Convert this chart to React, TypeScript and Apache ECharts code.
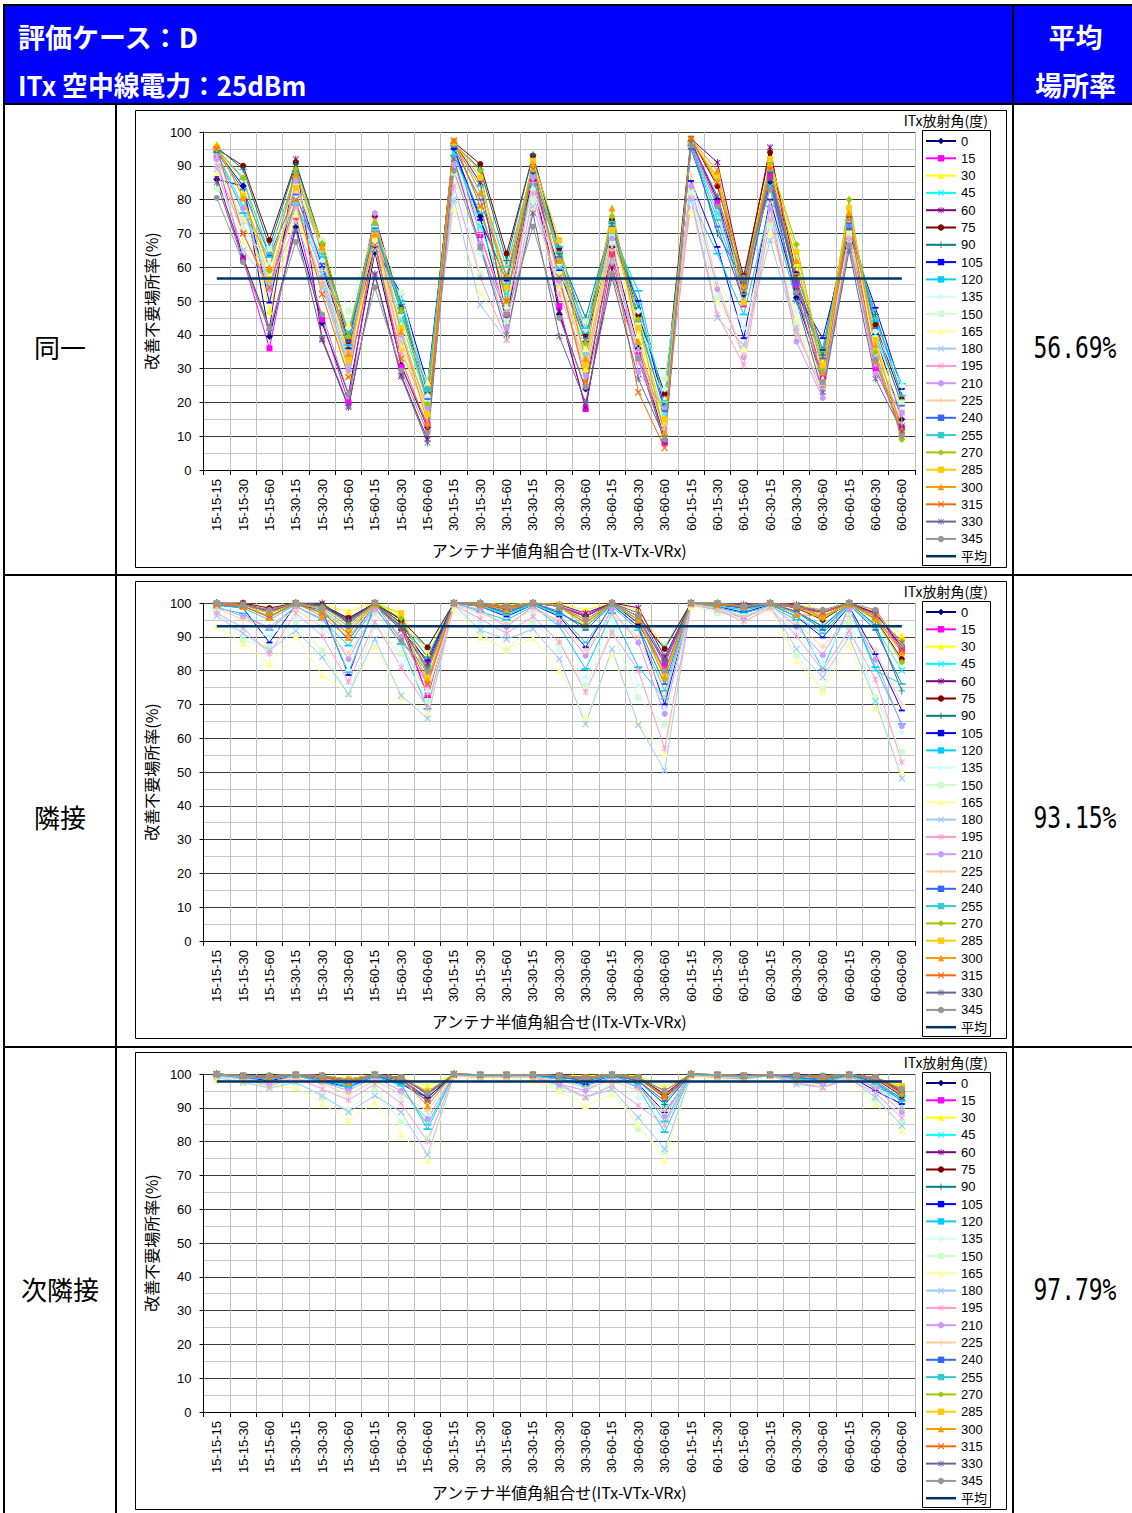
import React, { useEffect, useRef } from "react";
import * as echarts from "echarts";

const categories = [
  "15-15-15", "15-15-30", "15-15-60", "15-30-15", "15-30-30", "15-30-60", "15-60-15", "15-60-30", "15-60-60",
  "30-15-15", "30-15-30", "30-15-60", "30-30-15", "30-30-30", "30-30-60", "30-60-15", "30-60-30", "30-60-60",
  "60-15-15", "60-15-30", "60-15-60", "60-30-15", "60-30-30", "60-30-60", "60-60-15", "60-60-30", "60-60-60",
];

const angles = ["0", "15", "30", "45", "60", "75", "90", "105", "120", "135", "150", "165",
  "180", "195", "210", "225", "240", "255", "270", "285", "300", "315", "330", "345"];

const yTicks = [0, 10, 20, 30, 40, 50, 60, 70, 80, 90, 100];

// 同一 : one row per category, one value per ITx angle (0..345)
const sameRows = [
  [86, 92.5, 96.5, 94, 86.5, 95, 95.5, 94.5, 94, 91, 83, 88, 89, 90, 92, 93, 94, 95, 95, 95.5, 96, 95, 85, 80.5],
  [84, 62.5, 82, 78, 63, 90, 89, 84, 76, 72, 74, 67.5, 65, 70, 77.5, 73, 83, 86, 86.5, 81, 80.5, 70, 62, 61.5],
  [39.5, 36, 47, 55, 42, 68, 66, 49.5, 63, 61, 65.5, 58, 55, 53, 53.5, 57, 63.5, 64, 59, 56.5, 60, 54, 41, 42],
  [72, 75, 75.5, 79, 92, 91, 90.5, 85, 78.5, 81, 84, 76, 73, 78, 85.5, 82, 81.5, 88, 89, 83.5, 87.5, 80, 71, 67.5],
  [43.5, 44.5, 55, 58, 38.5, 66.5, 67, 60, 63, 62, 68, 57, 54, 55, 57, 59, 61, 64, 67, 65.5, 66, 52, 39, 46],
  [22.5, 20, 28, 32, 18.5, 38, 40, 36, 37, 42, 47, 43, 30, 31, 29.5, 33, 38, 41, 39.5, 32.5, 34.5, 27.5, 19, 22.5],
  [64.5, 68, 69, 71, 58, 75, 72, 66, 70.5, 67, 72, 68.5, 65, 74, 76, 69, 71.5, 72.5, 73, 69.5, 70, 66.5, 57.5, 54],
  [31, 30.5, 36, 44, 28, 48, 49, 52, 50, 46, 52.5, 43, 38, 35, 40, 38, 46.5, 48, 47, 42, 41, 33, 27.5, 29.5],
  [12.5, 13.5, 17, 20, 9, 22, 23, 25.5, 24, 22, 21, 26, 19, 17, 18.5, 16, 21, 23.5, 19.5, 16.5, 14, 12.5, 8, 11],
  [95, 96, 97, 94, 97, 97, 96.5, 95, 93, 80.5, 88, 77.5, 80, 84, 90.5, 92, 95.5, 96, 96.5, 97, 97.5, 97.5, 92, 88.5],
  [75, 69.5, 78, 72, 85, 90.5, 89, 74, 76, 64, 58, 52.5, 48.8, 57, 67, 70, 80, 84, 88.5, 86.5, 82, 78, 66, 65.7],
  [44, 46, 50, 52, 45, 64, 62, 56, 55, 48, 44, 40, 38.5, 38.5, 42, 47, 57, 60, 50, 54, 57.5, 50, 40, 46],
  [88, 85.5, 89, 87, 92, 93, 93.3, 86, 84.5, 83, 80, 77.5, 78, 82, 86.5, 85, 88, 90, 91, 91.5, 90.5, 89, 76, 72],
  [46, 48.5, 55, 60, 47, 65.5, 64, 59, 66, 61, 58, 53, 55, 52, 56, 57, 63, 64.5, 62, 68, 62, 57, 39.5, 45],
  [24, 18, 30, 35, 18.5, 40, 45, 38, 40.5, 41.5, 44, 36, 34, 32, 28, 33, 39, 42, 37.5, 31, 33, 26, 20, 24.5],
  [66, 64, 70, 72, 60, 74, 73, 68, 70, 67, 69, 68.5, 62, 66, 68.5, 65, 72, 73.5, 75, 71, 77.5, 64, 57, 58],
  [36, 35, 40, 46, 33, 45.8, 48, 50, 53, 47, 43, 40, 36, 32, 29, 35, 44, 49, 44.5, 42, 38, 23, 27, 33],
  [9, 8, 14, 17, 8.5, 22.5, 20, 18, 19, 24, 27, 21, 16, 13, 18, 12, 17.5, 20.5, 10, 15, 11, 6.5, 9.5, 9],
  [97.5, 97, 97.5, 96, 98, 98, 97, 85.5, 80, 79, 82, 76.6, 79.5, 80.5, 84, 87.4, 95, 96, 97, 97.5, 98, 98, 97, 96],
  [80, 79, 86, 76, 91, 84, 70, 66, 64, 56.3, 51, 50, 45, 46, 53.5, 55, 72, 74, 86.5, 87, 88.5, 85, 81, 78],
  [52, 49, 55, 54, 56, 57.5, 56, 39, 46, 42, 35.5, 36, 37, 31, 33.4, 34, 50, 52, 56, 49.5, 55, 53, 55.5, 57],
  [85, 87, 91, 84, 95.5, 94, 88, 80, 78, 72, 73, 70, 68, 74, 77.5, 79, 86, 88.5, 91, 92, 90, 89, 86, 83],
  [51, 55, 61, 57, 53, 58, 56, 52, 50, 47, 43, 45, 41, 42, 38, 40, 55, 58, 66.7, 64.5, 62, 57, 50, 52.5],
  [27, 28, 32, 30, 25, 35.5, 34, 39, 36, 30, 26, 27, 24, 22, 21.3, 25, 33, 35, 30, 31, 29, 26, 23, 26],
  [70, 72, 76, 73, 69, 75, 71, 70, 72, 68, 70, 74, 66, 67, 68.5, 69, 73, 74, 80, 77.5, 76, 74, 65, 66.5],
  [40, 30, 37, 40, 33, 43, 46, 48, 44, 41, 39, 36, 34, 31, 28.5, 33, 42, 45, 35, 38.5, 37, 32, 27, 32.5],
  [15, 12.5, 18, 20, 13, 21, 22, 24, 25.5, 25, 20, 18, 17, 16, 17, 14, 19, 22, 9, 10.5, 12, 11, 11.5, 10],
];

// 隣接
const adjRows = [
  [100, 99.5, 100, 99, 100, 100, 100, 99.5, 98.5, 97.5, 97.7, 93.3, 96.2, 97, 99, 98.5, 99.5, 99.5, 100, 100, 100, 99.5, 100, 100],
  [99.5, 99.5, 100, 99, 100, 100, 99.5, 98.5, 96.9, 93, 89, 88, 91, 92.6, 96, 95, 99, 98.5, 99.5, 99.5, 99, 99, 99.5, 99.5],
  [97, 98, 98.5, 96, 97.5, 98.5, 97, 88.3, 92, 90, 87, 82, 86, 85, 92.9, 93, 96, 95, 97, 97, 95.7, 96, 97.5, 98],
  [100, 100, 100, 99.5, 100, 100, 100, 99.5, 99, 96, 94, 90.3, 91.8, 97, 99, 98, 100, 99.5, 100, 100, 100, 100, 100, 100],
  [99, 99, 99.5, 97.5, 100, 99.5, 99.5, 98, 95, 92, 86, 78.6, 84, 90.3, 95.4, 93, 98, 97, 99, 98, 96, 97, 99, 98.5],
  [95, 95.5, 97.5, 92, 94, 95.5, 95, 78.7, 87.4, 80, 73, 73.5, 73.1, 76.6, 83.4, 85, 89, 79.5, 93.8, 92, 89.8, 91, 94.5, 93],
  [100, 100, 100, 100, 100, 100, 100, 99.5, 99, 97, 93, 87.4, 89.3, 94.3, 98, 97, 99.5, 99, 100, 100, 99.5, 100, 100, 100],
  [95, 93, 96.5, 93, 94, 95, 94, 92, 87.8, 81.9, 85, 72.1, 72.6, 80.9, 90, 88, 93, 88, 95.5, 97, 93.5, 92, 92.5, 89],
  [72, 72.6, 85, 87, 82, 86.9, 84, 83, 68.7, 74, 71, 67.7, 65.8, 69, 75.6, 73, 80, 81, 80, 78, 77, 76, 81, 79.7],
  [100, 100, 100, 100, 100, 100, 100, 100, 100, 99.5, 99.5, 98.5, 99.5, 99.5, 100, 99.5, 100, 100, 100, 100, 100, 100, 100, 100],
  [100, 99.5, 100, 99, 100, 100, 99.5, 99, 97.5, 94, 91, 89.8, 92, 95.3, 98, 97, 99.5, 99, 100, 100, 99.5, 99.5, 100, 100],
  [98, 99, 99.5, 97, 99, 99, 97, 96, 95, 91, 85.9, 86.4, 89.3, 91, 92.9, 94, 97.5, 96.5, 98.5, 99, 98, 98.5, 99, 99],
  [100, 100, 100, 99.5, 100, 100, 100, 99.5, 99, 97, 94, 89.5, 92.3, 96, 99, 98, 100, 99.5, 100, 100, 100, 100, 100, 100],
  [99, 99, 99.5, 97, 99.5, 99, 97, 96, 93.1, 86, 88, 80, 83.4, 88.5, 94.3, 95, 97.5, 96.5, 99, 99.5, 99, 99, 99, 99],
  [96, 96.5, 98, 93, 97, 96, 93, 86.9, 80.5, 78, 75.6, 66.2, 64.2, 73.6, 84.4, 86, 92, 88.3, 93, 95, 94.3, 94, 96, 95],
  [100, 100, 100, 99.5, 100, 100, 100, 99.5, 97, 95, 92, 84.9, 86.4, 91.3, 98, 96.5, 99.5, 99, 100, 100, 100, 100, 100, 100],
  [94, 96, 98, 95, 98.6, 96, 95, 93, 81, 75.6, 72, 64.7, 64, 80, 88.3, 90, 93, 92, 95, 96, 95, 96, 97, 96],
  [80, 82, 87, 87, 84, 86.4, 83, 70, 71.7, 68, 64, 55.4, 50.4, 56.9, 67.2, 72, 76, 74, 77.6, 79, 78, 80, 83, 80],
  [100, 100, 100, 100, 100, 100, 100, 100, 100, 99.5, 99.5, 99, 99.5, 99.5, 100, 99.5, 100, 100, 100, 100, 100, 100, 100, 100],
  [99.5, 99.5, 100, 99, 100, 100, 99.5, 99, 98.5, 97.5, 97, 98, 98, 98, 99, 98.5, 99.5, 99, 100, 100, 99.5, 99.5, 100, 100],
  [99, 98.5, 99.5, 98, 99.5, 99, 98.5, 97.2, 97, 96, 96, 95.5, 95.5, 94.5, 95.5, 96, 98.5, 98, 99, 99, 99, 99, 99.5, 99],
  [100, 100, 100, 99.5, 100, 100, 99.5, 99.5, 99, 98.5, 98.5, 98.5, 99, 98.5, 99.5, 99, 100, 99.5, 100, 100, 100, 100, 100, 100],
  [99, 99, 99.5, 97, 99.5, 98.5, 97.5, 96, 95, 92, 84.4, 83, 86.4, 90.3, 93, 94, 97.5, 96, 99, 99, 96.7, 98.5, 99, 99],
  [96, 97, 98, 93, 97, 95, 93.1, 89.8, 80.3, 82, 74.5, 74, 78, 80, 84.6, 87, 92, 91, 95.5, 96, 96, 97, 97.5, 98],
  [100, 100, 100, 99.5, 100, 100, 100, 99, 99, 97, 94, 87.9, 90, 91.8, 98, 96, 99.5, 99, 100, 100, 99.5, 100, 100, 100],
  [97, 97.5, 97.5, 93, 97, 95.2, 93.5, 84.9, 81, 71.2, 72, 69, 71, 77.4, 83.3, 86, 92, 80, 95, 96, 95.5, 96, 96.5, 98],
  [87, 86, 90.3, 80, 87, 83.4, 74, 68.2, 64.2, 61.8, 55.9, 50.1, 48.1, 52.9, 63.6, 70, 76, 76, 82.5, 89, 85.4, 86, 88.3, 87.5],
];

// 次隣接
const nextRows = [
  [100, 100, 100, 99.5, 100, 100, 100, 99.5, 99.5, 99, 99, 98, 99, 99.5, 100, 99.5, 100, 99.5, 100, 100, 100, 100, 100, 100],
  [99.5, 99.5, 99.5, 99, 99.5, 99.5, 99.5, 99, 98.5, 98, 98, 97.5, 97.5, 98.5, 99, 98.5, 99.5, 99, 99.5, 99.5, 99.5, 99.5, 99.5, 99.5],
  [99.5, 99, 99.5, 98.5, 99, 99.5, 99, 98, 97.5, 97, 96.5, 96, 95.9, 96.5, 97.5, 97.5, 98.5, 98.5, 99.5, 99.5, 99, 99, 99.5, 99.5],
  [99.8, 99.8, 99.8, 99.5, 99.8, 99.8, 99.8, 99.5, 99.5, 98.5, 98, 96, 97.5, 99, 99.5, 99, 99.8, 99.5, 99.8, 99.8, 99.8, 99.8, 99.8, 99.8],
  [99.5, 99.5, 99.5, 98.5, 99.5, 99.5, 99, 98, 97.5, 96, 93, 91.3, 93.6, 95.5, 97.5, 97, 98.5, 98, 99.5, 99.5, 99, 99, 99.5, 99.5],
  [98, 98, 98.5, 96.5, 97.5, 98.5, 97.5, 96, 96, 93, 89.3, 86.2, 88.7, 92.3, 95.1, 94, 97, 96.5, 98, 98.5, 97.5, 97.5, 98, 98],
  [99.8, 99.8, 99.8, 99.5, 99.8, 99.8, 99.8, 99.5, 99, 98, 96, 91.6, 93.6, 97, 99, 98, 99.5, 99.5, 99.8, 99.8, 99.8, 99.8, 99.8, 99.8],
  [99, 98.5, 99, 97.5, 99, 99, 98, 97, 97, 93, 85.7, 82.2, 88.7, 91.3, 95, 94, 97.5, 96.5, 99, 99, 98.5, 98.5, 99, 99],
  [94, 93, 96.5, 92, 94, 94.5, 93, 93, 83.7, 88, 81, 74.4, 76.1, 80.1, 86.7, 89, 92, 85, 94, 95, 90.6, 92, 94, 94.5],
  [100, 100, 100, 99.8, 100, 100, 100, 99.8, 99.8, 99.5, 99.5, 99.5, 99.5, 99.5, 100, 99.5, 100, 99.8, 100, 100, 100, 100, 100, 100],
  [99.8, 99.8, 99.8, 99.5, 99.8, 99.8, 99.5, 99.5, 99.5, 99, 99, 98.5, 99, 99, 99.5, 99, 99.8, 99.5, 99.8, 99.8, 99.8, 99.8, 99.8, 99.8],
  [99.8, 99.8, 99.8, 99.5, 99.8, 99.8, 99.5, 99.5, 99.5, 99, 99, 98.5, 99, 99, 99.5, 99, 99.8, 99.5, 99.8, 99.8, 99.8, 99.8, 99.8, 99.8],
  [99.8, 99.8, 99.8, 99.5, 99.8, 99.8, 99.8, 99.5, 99.5, 99, 99, 98, 99, 99, 99.5, 99, 99.8, 99.5, 99.8, 99.8, 99.8, 99.8, 99.8, 99.8],
  [99.5, 99.5, 99.5, 99, 99.5, 99.5, 99, 98.5, 98.5, 97, 95.5, 95, 96.5, 97, 97, 98, 99, 98.5, 99.5, 99.5, 99.5, 99.5, 99.5, 99.5],
  [99, 99, 99.5, 98, 99, 99, 98.5, 97, 96.5, 95, 93, 90.6, 93.1, 93.1, 95.1, 96, 98, 97.5, 99, 99, 98.5, 98.5, 99, 99],
  [99.8, 99.8, 99.8, 99.5, 99.8, 99.8, 99.8, 99.5, 99, 98, 97, 94.1, 95.5, 96.5, 99, 98, 99.5, 99.5, 99.8, 99.8, 99.8, 99.8, 99.8, 99.8],
  [99, 99, 99.5, 98, 99, 99, 98, 97, 96, 93, 83.7, 85.2, 87.1, 90.6, 96.3, 95, 98, 97, 99, 99, 98.5, 98.5, 99, 99],
  [94, 93, 96, 91, 94, 93, 91, 88.7, 82.8, 85, 77, 74.4, 77.8, 85, 87.5, 89, 92, 86, 93.5, 95, 93.3, 93.5, 95, 95],
  [100, 100, 100, 99.8, 100, 100, 100, 99.8, 99.8, 99.5, 99.5, 99.5, 99.5, 99.5, 100, 99.5, 100, 99.8, 100, 100, 100, 100, 100, 100],
  [99.8, 99.8, 99.8, 99.5, 99.8, 99.8, 99.5, 99.5, 99.5, 99, 99, 98.5, 99, 99, 99.5, 99, 99.8, 99.5, 99.8, 99.8, 99.8, 99.8, 99.8, 99.8],
  [99.5, 99.5, 99.5, 99, 99.5, 99.5, 99, 99, 99, 98.5, 98.5, 98.5, 98.5, 98.5, 99, 99, 99.5, 99, 99.5, 99.5, 99.5, 99.5, 99.5, 99.5],
  [99.8, 99.8, 99.8, 99.5, 99.8, 99.8, 99.8, 99.5, 99.5, 99.5, 99.5, 99.5, 99.5, 99.5, 99.8, 99.5, 99.8, 99.5, 99.8, 99.8, 99.8, 99.8, 99.8, 99.8],
  [99.5, 99.5, 99.5, 99, 99.5, 99.5, 99, 98.5, 98.5, 98, 97.5, 98, 97, 97.5, 98, 98.5, 99, 98.5, 99.5, 99.5, 99.5, 99.5, 99.5, 99.5],
  [99, 99, 99.5, 98, 99, 99, 98, 97.5, 97.5, 97, 96.5, 96.5, 96, 96, 97, 97.5, 98.5, 98, 99, 99, 99, 99, 99.5, 99.5],
  [99.8, 99.8, 99.8, 99.5, 99.8, 99.8, 99.8, 99.5, 99.5, 99, 99, 98.5, 99, 98.5, 99.5, 99, 99.8, 99.5, 99.8, 99.8, 99.8, 99.8, 99.8, 99.8],
  [99, 99, 99, 97.5, 99, 98.5, 97.5, 95, 96, 94, 92.5, 91.1, 93.1, 94.4, 96, 96.5, 98, 97, 99, 99, 98.5, 98.5, 99, 99],
  [95, 94, 96, 90.5, 94.5, 93.5, 92, 91.1, 93.5, 88, 85.5, 83.3, 84.7, 87, 88.7, 90, 92.5, 92, 94, 96.5, 95.8, 95, 95.5, 95.5],
];

const sameAvg = 56.69;
const adjAvg = 93.15;
const nextAvg = 97.79;

const rowLabels = ["同一", "隣接", "次隣接"];
const avgLabels = ["56.69%", "93.15%", "97.79%"];

// ---- styles ----
const COLORS = ["#000080", "#FF00FF", "#FFFF00", "#00FFFF", "#800080", "#800000", "#008080", "#0000FF",
  "#00CCFF", "#CCFFFF", "#CCFFCC", "#FFFF99", "#99CCFF", "#FF99CC", "#CC99FF", "#FFCC99",
  "#3366FF", "#33CCCC", "#99CC00", "#FFCC00", "#FF9900", "#FF6600", "#666699", "#969696"];

const SYM_X = "path://M0,1.2L1.2,0L5,3.8L8.8,0L10,1.2L6.2,5L10,8.8L8.8,10L5,6.2L1.2,10L0,8.8L3.8,5Z";
const SYM_PLUS = "path://M4.3,0H5.7V4.3H10V5.7H5.7V10H4.3V5.7H0V4.3H4.3Z";
const SYM_STAR = "path://M4.4,0H5.6V3.9L8.7,0.9L9.5,1.8L6.2,5L9.5,8.2L8.7,9.1L5.6,6.1V10H4.4V6.1L1.3,9.1L0.5,8.2L3.8,5L0.5,1.8L1.3,0.9L4.4,3.9Z";
const SYM_DASH = "path://M0,0H10V3H0Z";
const SYM_LDASH = "path://M0,0H14V3H0Z";
const MARKERS = [
  { symbol: "diamond", size: 7 },
  { symbol: "rect", size: 6 },
  { symbol: "triangle", size: 7 },
  { symbol: SYM_X, size: 7 },
  { symbol: SYM_STAR, size: 7 },
  { symbol: "circle", size: 6 },
  { symbol: SYM_PLUS, size: 7 },
  { symbol: SYM_DASH, size: 6 },
  { symbol: SYM_LDASH, size: 8 },
];

const FONT = "'Noto Sans CJK JP', 'Noto Sans', sans-serif";
const NUMFONT = "'Liberation Sans', 'Noto Sans CJK JP', sans-serif";
const CHART_W = 872;
const CHART_H = 458;

function buildOption(rows: number[][], avg: number) {
  const source: (string | number)[][] = [["cat", ...angles, "平均"]];
  categories.forEach((c, i) => source.push([c, ...rows[i], avg]));

  const series: any[] = angles.map((a, k) => {
    const m = MARKERS[k % MARKERS.length];
    return {
      type: "line",
      name: a,
      encode: { x: 0, y: k + 1 },
      symbol: m.symbol,
      symbolSize: m.size,
      symbolKeepAspect: true,
      showAllSymbol: true,
      lineStyle: { width: 1, color: COLORS[k] },
      itemStyle: { color: COLORS[k], borderWidth: 0 },
      emphasis: { disabled: true },
      z: 2,
    };
  });
  series.push({
    type: "line",
    name: "平均",
    encode: { x: 0, y: angles.length + 1 },
    symbol: "none",
    lineStyle: { width: 2.5, color: "#003366" },
    itemStyle: { color: "#003366" },
    emphasis: { disabled: true },
    z: 3,
  });

  const legendData: any[] = angles.map((a) => ({ name: a }));
  legendData.push({ name: "平均", icon: "path://M0,0H30V2.5H0Z" });

  return {
    animation: false,
    textStyle: { fontFamily: FONT },
    dataset: { source },
    grid: { left: 67, top: 22, width: 713, height: 338 },
    xAxis: {
      type: "category",
      boundaryGap: true,
      name: "アンテナ半値角組合せ(ITx-VTx-VRx)",
      nameLocation: "middle",
      nameGap: 72,
      nameTextStyle: { fontSize: 16, color: "#000", fontFamily: FONT },
      axisLine: { show: true, lineStyle: { color: "#000", width: 1 } },
      axisTick: { show: true, length: 5, lineStyle: { color: "#000" } },
      axisLabel: { interval: 0, rotate: 90, fontSize: 13, color: "#000", margin: 9, fontFamily: NUMFONT },
      splitLine: { show: true, interval: 0, lineStyle: { color: "#c0c0c0", width: 1 } },
    },
    yAxis: {
      type: "value",
      min: yTicks[0],
      max: yTicks[yTicks.length - 1],
      interval: 10,
      name: "改善不要場所率(%)",
      nameLocation: "middle",
      nameGap: 42,
      nameRotate: 90,
      nameTextStyle: { fontSize: 16, color: "#000", fontFamily: FONT },
      axisLine: { show: true, lineStyle: { color: "#000", width: 1 } },
      axisTick: { show: true, length: 4, lineStyle: { color: "#000" } },
      axisLabel: { fontSize: 13, color: "#000", margin: 12, fontFamily: NUMFONT },
      splitLine: { show: true, lineStyle: { color: "#3a3a3a", width: 1 } },
      minorTick: { show: false, splitNumber: 2 },
      minorSplitLine: { show: true, lineStyle: { color: "#c8c8c8", width: 1 } },
    },
    legend: {
      orient: "vertical",
      left: 790,
      top: 22.5,
      padding: 0,
      itemWidth: 30,
      itemHeight: 8,
      itemGap: 0.3,
      selectedMode: false,
      data: legendData,
      textStyle: { fontSize: 13, color: "#000", lineHeight: 17, fontFamily: NUMFONT },
    },
    graphic: [
      {
        type: "rect",
        shape: { x: 0.5, y: 0.5, width: CHART_W - 1, height: CHART_H - 1 },
        style: { fill: "none", stroke: "#000", lineWidth: 1 },
        silent: true,
        z: -1,
      },
      {
        type: "rect",
        shape: { x: 787.5, y: 20.5, width: 68, height: 435 },
        style: { fill: "none", stroke: "#000", lineWidth: 1 },
        silent: true,
      },
      {
        type: "text",
        x: 853,
        y: 10,
        style: {
          text: "ITx放射角(度)",
          fontSize: 14,
          fill: "#000",
          fontFamily: FONT,
          align: "right",
          verticalAlign: "middle",
        },
        silent: true,
      },
    ],
    series,
  };
}

function LineChart({ rows, avg }: { rows: number[][]; avg: number }) {
  const ref = useRef<HTMLDivElement>(null);
  useEffect(() => {
    if (!ref.current) return;
    const chart = echarts.init(ref.current, undefined, { renderer: "svg" });
    chart.setOption(buildOption(rows, avg) as any);
    return () => chart.dispose();
  }, [rows, avg]);
  return <div ref={ref} style={{ width: CHART_W, height: CHART_H }} />;
}

const abs = (s: React.CSSProperties): React.CSSProperties => ({ position: "absolute", ...s });

export default function App() {
  const chartTops = [110, 581, 1052];
  const rowCenters = [347, 817, 1289];
  const rowsData = [sameRows, adjRows, nextRows];
  const avgs = [sameAvg, adjAvg, nextAvg];
  const headerText: React.CSSProperties = {
    color: "#fff",
    fontFamily: FONT,
    fontWeight: 700,
    fontSize: 27,
    lineHeight: "32px",
    whiteSpace: "nowrap",
  };
  return (
    <div style={abs({ left: 0, top: 0, width: 1132, height: 1513, background: "#fff", overflow: "hidden", fontFamily: FONT })}>
      {/* header */}
      <div style={abs({ left: 4, top: 5, width: 1128, height: 99, background: "#0000FF" })} />
      <div style={abs({ left: 18, top: 21, ...headerText })}>評価ケース：D</div>
      <div style={abs({ left: 18, top: 69, ...headerText, transform: "scaleX(0.955)", transformOrigin: "left center" })}>ITx 空中線電力：25dBm</div>
      <div style={abs({ left: 1016, top: 21, width: 119, textAlign: "center", ...headerText })}>平均</div>
      <div style={abs({ left: 1016, top: 69, width: 119, textAlign: "center", ...headerText })}>場所率</div>
      {/* borders */}
      <div style={abs({ left: 3, top: 4, width: 1129, height: 2, background: "#000" })} />
      <div style={abs({ left: 3, top: 103, width: 1129, height: 2, background: "#000" })} />
      <div style={abs({ left: 3, top: 4, width: 2, height: 1509, background: "#000" })} />
      <div style={abs({ left: 1012, top: 4, width: 2, height: 1509, background: "#000" })} />
      <div style={abs({ left: 115, top: 104, width: 2, height: 1409, background: "#000" })} />
      <div style={abs({ left: 3, top: 574, width: 1129, height: 2, background: "#000" })} />
      <div style={abs({ left: 3, top: 1046, width: 1129, height: 2, background: "#000" })} />
      {rowLabels.map((t, i) => (
        <div key={t} style={abs({ left: 5, width: 110, top: rowCenters[i] - 16, lineHeight: "32px", textAlign: "center", fontSize: 26, color: "#000", fontFamily: FONT })}>{t}</div>
      ))}
      {avgLabels.map((t, i) => (
        <div key={t} style={abs({ left: 1016, width: 118, top: rowCenters[i] - 18, lineHeight: "36px", textAlign: "center", color: "#000" })}>
          <span style={{ display: "inline-block", fontFamily: "'DejaVu Sans Mono', monospace", fontSize: 31, transform: "scaleX(0.74)" }}>{t}</span>
        </div>
      ))}
      {chartTops.map((top, i) => (
        <div key={top} style={abs({ left: 135, top, width: CHART_W, height: CHART_H })}>
          <LineChart rows={rowsData[i]} avg={avgs[i]} />
        </div>
      ))}
    </div>
  );
}
